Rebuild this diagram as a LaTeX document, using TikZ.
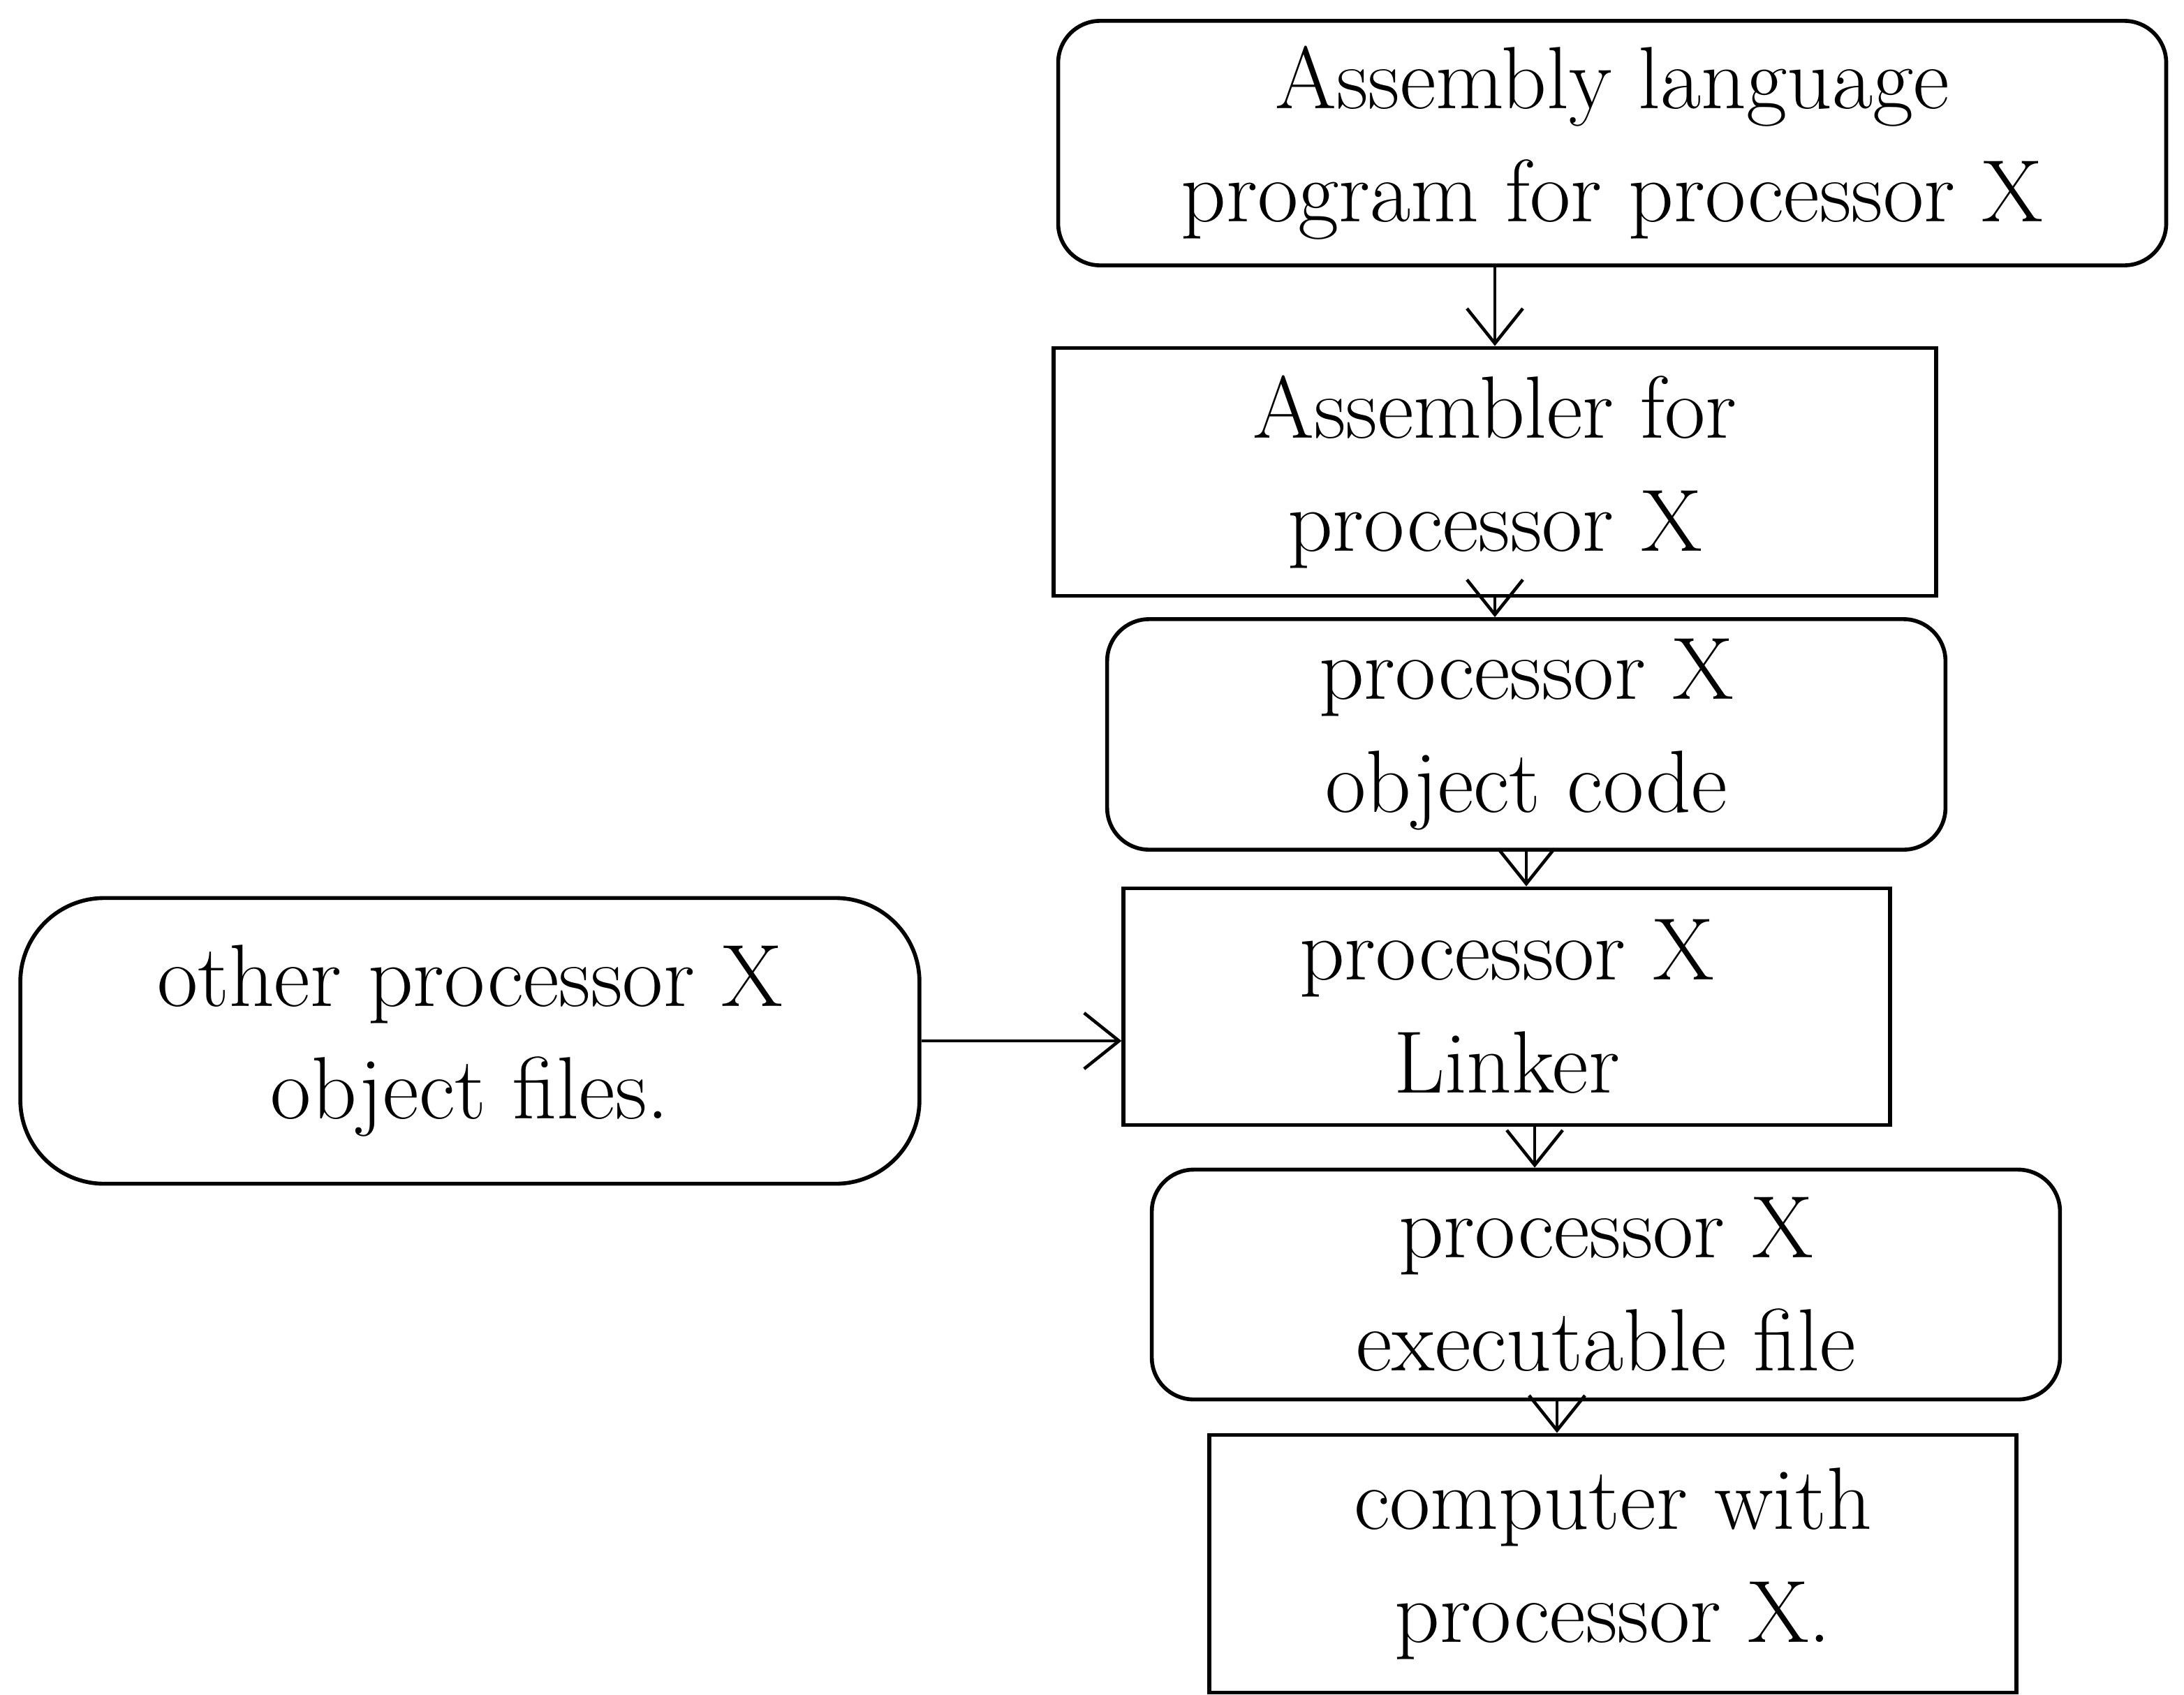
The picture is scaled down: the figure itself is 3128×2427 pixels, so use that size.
\documentclass[tikz,border=0pt]{standalone}
\usepackage{tikz}
\usetikzlibrary{arrows.meta}

\tikzset{
  box/.style={draw=black,line width=1.6pt,align=center,inner sep=0pt,
    font=\fontsize{36}{46}\selectfont},
  roundbox/.style={box,rounded corners=0.6cm},
  arr/.style={line width=1.3pt,-{Straight Barb[length=0.5cm,width=0.8cm]}}
}

\begin{document}
\begin{tikzpicture}[x=0.01cm,y=-0.01cm]
\useasboundingbox (0,0) rectangle (3128,2427);
% main chain
\node[roundbox,minimum width=15.86cm,minimum height=3.5cm] (lang) at (2309,205) {Assembly language\\program for processor X};
\node[box,minimum width=12.63cm,minimum height=3.55cm] (asm) at (2141,676) {Assembler for\\processor X};
\node[roundbox,minimum width=12.0cm,minimum height=3.3cm] (obj) at (2186,1052) {processor X\\object code};
\node[box,minimum width=10.97cm,minimum height=3.39cm] (link) at (2158,1442) {processor X\\Linker};
\node[roundbox,minimum width=13.0cm,minimum height=3.29cm] (exe) at (2300,1840) {processor X\\executable file};
\node[box,minimum width=11.55cm,minimum height=3.69cm] (comp) at (2310,2240) {computer with\\processor X.};
% side input
\node[box,rounded corners=1.2cm,minimum width=12.87cm,minimum height=4.09cm] (other) at (673,1491) {other processor X\\object files.};

\draw[arr] (asm.north |- lang.south) -- (asm.north);
\draw[arr] (asm.south) -- (asm.south |- obj.north);
\draw[arr] (obj.south) -- (obj.south |- link.north);
\draw[arr] ([xshift=0.4cm]link.south) -- ([xshift=0.4cm]link.south |- exe.north);
\draw[arr] ([xshift=-0.7cm]exe.south) -- ([xshift=-0.7cm]exe.south |- comp.north);
\draw[arr] (other.east) -- (other.east -| link.west);
\end{tikzpicture}
\end{document}
